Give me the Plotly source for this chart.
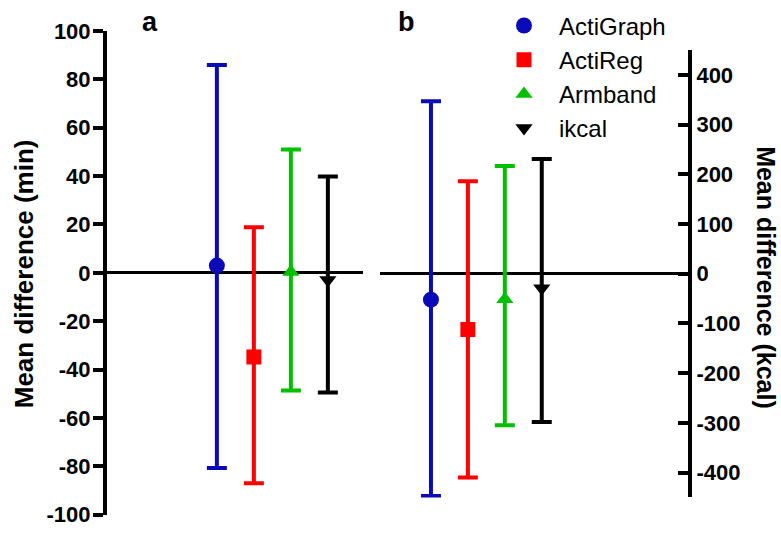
import plotly.graph_objects as go

devices = ["ActiGraph", "ActiReg", "Armband", "ikcal"]
colors = ["#0A0AB8", "#FF0000", "#00C000", "#000000"]
symbols = ["circle", "square", "triangle-up", "triangle-down"]
marker_sizes = [16, 15, 15, 15]

# Panel a: time (min)
min_mean = [3, -34.8, 0.3, -3]
min_upper = [86, 18.9, 51, 39.8]
min_lower = [-80.7, -87, -48.7, -49.5]

# Panel b: energy (kcal)
kcal_mean = [-52, -112, -51, -29]
kcal_upper = [347, 186, 217, 231]
kcal_lower = [-447, -410, -305, -298]

left_ticks = [-100, -80, -60, -40, -20, 0, 20, 40, 60, 80, 100]
right_ticks = [-400, -300, -200, -100, 0, 100, 200, 300, 400]

W, H = 781, 540
FONT = "Liberation Sans, Arial, sans-serif"

fig = go.Figure()

for i, d in enumerate(devices):
    fig.add_trace(go.Scatter(
        x=[d], y=[min_mean[i]], mode="markers", name=d,
        legendgroup=d, showlegend=True,
        marker=dict(color=colors[i], symbol=symbols[i], size=marker_sizes[i]),
        error_y=dict(type="data", symmetric=False,
                     array=[min_upper[i] - min_mean[i]],
                     arrayminus=[min_mean[i] - min_lower[i]],
                     color=colors[i], thickness=4, width=10),
        xaxis="x", yaxis="y"))
    fig.add_trace(go.Scatter(
        x=[d], y=[kcal_mean[i]], mode="markers", name=d,
        legendgroup=d, showlegend=False,
        marker=dict(color=colors[i], symbol=symbols[i], size=marker_sizes[i]),
        error_y=dict(type="data", symmetric=False,
                     array=[kcal_upper[i] - kcal_mean[i]],
                     arrayminus=[kcal_mean[i] - kcal_lower[i]],
                     color=colors[i], thickness=4, width=10),
        xaxis="x2", yaxis="y2"))

hidden_x = dict(showline=False, showticklabels=False, showgrid=False,
                zeroline=False, ticks="", type="category",
                categoryorder="array", categoryarray=devices)

def ann(text, x, y, size, angle=0):
    return dict(text=text, x=x / W, y=1 - y / H, xref="paper", yref="paper",
                xanchor="center", yanchor="middle", textangle=angle,
                showarrow=False, font=dict(size=size, weight="bold", family=FONT))

fig.update_layout(
    width=W, height=H,
    margin=dict(l=0, r=0, t=0, b=0),
    paper_bgcolor="white", plot_bgcolor="white",
    font=dict(family=FONT, color="black"),
    xaxis=dict(domain=[107 / W, 363 / W], range=[-2.97, 3.95], anchor="y", **hidden_x),
    xaxis2=dict(domain=[380 / W, 688 / W], range=[-1.38, 6.96], anchor="y2", **hidden_x),
    yaxis=dict(domain=[1 - 527 / H, 1 - 20 / H], range=[-100, 100], anchor="x",
               showline=True, linecolor="black", linewidth=4,
               ticks="outside", ticklen=10, tickwidth=4, tickcolor="black",
               tickvals=left_ticks, ticktext=[str(v) for v in left_ticks],
               tickfont=dict(size=22, weight="bold", family=FONT),
               ticklabelstandoff=-2,
               showgrid=False, zeroline=True, zerolinecolor="black", zerolinewidth=3),
    yaxis2=dict(domain=[1 - 509 / H, 1 - 40 / H], range=[-450, 450], anchor="x2",
                side="right",
                showline=True, linecolor="black", linewidth=4,
                ticks="inside", ticklen=10, tickwidth=4, tickcolor="black",
                tickvals=right_ticks, ticktext=[str(v) for v in right_ticks],
                tickfont=dict(size=22, weight="bold", family=FONT),
                showgrid=False, zeroline=True, zerolinecolor="black", zerolinewidth=3),
    legend=dict(x=(524 - 35) / W, y=1 + 9 / H, xanchor="left", yanchor="top",
                bgcolor="rgba(0,0,0,0)", borderwidth=0,
                font=dict(size=24, family=FONT), itemwidth=60,
                tracegroupgap=0),
    showlegend=True,
    annotations=[
        ann("Mean difference (min)", 24, 275, 26, -90),
        ann("Mean difference (kcal)", 766, 278, 25, 90),
        ann("a", 150, 11, 27),
        ann("b", 406, 10, 27),
    ],
)

fig.write_html("out.html")
